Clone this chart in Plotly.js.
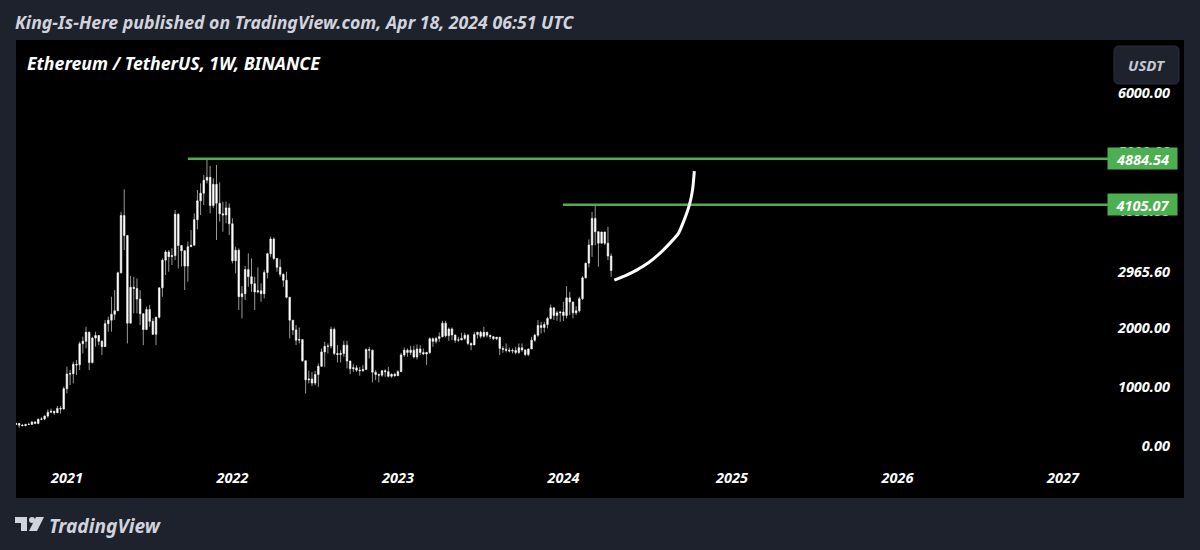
<!DOCTYPE html>
<html><head><meta charset="utf-8">
<script src="https://cdn.plot.ly/plotly-3.0.1.min.js"></script>
<style>html,body{margin:0;padding:0;background:#1e222d}#c{width:1200px;height:550px}</style></head>
<body><div id="c"></div>
<script>
const weeks=["2020-09-14","2020-09-21","2020-09-28","2020-10-05","2020-10-12","2020-10-19","2020-10-26","2020-11-02","2020-11-09","2020-11-16","2020-11-23","2020-11-30","2020-12-07","2020-12-14","2020-12-21","2020-12-28",
"2021-01-04","2021-01-11","2021-01-18","2021-01-25","2021-02-01","2021-02-08","2021-02-15","2021-02-22","2021-03-01","2021-03-08","2021-03-15","2021-03-22","2021-03-29","2021-04-05","2021-04-12","2021-04-19","2021-04-26","2021-05-03","2021-05-10","2021-05-17","2021-05-24","2021-05-31","2021-06-07","2021-06-14","2021-06-21","2021-06-28","2021-07-05","2021-07-12","2021-07-19","2021-07-26","2021-08-02","2021-08-09","2021-08-16","2021-08-23","2021-08-30","2021-09-06","2021-09-13","2021-09-20","2021-09-27","2021-10-04","2021-10-11","2021-10-18","2021-10-25","2021-11-01","2021-11-08","2021-11-15","2021-11-22","2021-11-29","2021-12-06","2021-12-13","2021-12-20","2021-12-27",
"2022-01-03","2022-01-10","2022-01-17","2022-01-24","2022-01-31","2022-02-07","2022-02-14","2022-02-21","2022-02-28","2022-03-07","2022-03-14","2022-03-21","2022-03-28","2022-04-04","2022-04-11","2022-04-18","2022-04-25","2022-05-02","2022-05-09","2022-05-16","2022-05-23","2022-05-30","2022-06-06","2022-06-13","2022-06-20","2022-06-27","2022-07-04","2022-07-11","2022-07-18","2022-07-25","2022-08-01","2022-08-08","2022-08-15","2022-08-22","2022-08-29","2022-09-05","2022-09-12","2022-09-19","2022-09-26","2022-10-03","2022-10-10","2022-10-17","2022-10-24","2022-10-31","2022-11-07","2022-11-14","2022-11-21","2022-11-28","2022-12-05","2022-12-12","2022-12-19","2022-12-26",
"2023-01-02","2023-01-09","2023-01-16","2023-01-23","2023-01-30","2023-02-06","2023-02-13","2023-02-20","2023-02-27","2023-03-06","2023-03-13","2023-03-20","2023-03-27","2023-04-03","2023-04-10","2023-04-17","2023-04-24","2023-05-01","2023-05-08","2023-05-15","2023-05-22","2023-05-29","2023-06-05","2023-06-12","2023-06-19","2023-06-26","2023-07-03","2023-07-10","2023-07-17","2023-07-24","2023-07-31","2023-08-07","2023-08-14","2023-08-21","2023-08-28","2023-09-04","2023-09-11","2023-09-18","2023-09-25","2023-10-02","2023-10-09","2023-10-16","2023-10-23","2023-10-30","2023-11-06","2023-11-13","2023-11-20","2023-11-27","2023-12-04","2023-12-11","2023-12-18","2023-12-25",
"2024-01-01","2024-01-08","2024-01-15","2024-01-22","2024-01-29","2024-02-05","2024-02-12","2024-02-19","2024-02-26","2024-03-04","2024-03-11","2024-03-18","2024-03-25","2024-04-01","2024-04-08","2024-04-15"];
const opens=[365,385,355,346,367,368,410,385,455,460,510,575,590,565,640,630,
975,1225,1230,1390,1380,1740,1780,1935,1420,1835,1880,1780,1690,2080,2140,2240,2300,2945,3920,3580,2090,2700,2680,2500,2250,1980,2320,2120,1900,2190,2690,3160,3300,3220,3240,3940,3410,3320,3060,3390,3415,3850,4170,4300,4520,4570,4090,4450,4130,3950,3930,4050,
3780,3150,3330,2540,2590,3000,2880,2760,2620,2640,2590,2950,3270,3520,3190,3040,2920,2820,2530,2140,1975,1800,1810,1450,1125,1140,1070,1215,1355,1600,1695,1700,1985,1575,1555,1575,1715,1445,1315,1330,1290,1280,1300,1640,1630,1255,1215,1205,1280,1265,1185,1220,
1195,1265,1550,1630,1590,1630,1515,1650,1590,1565,1590,1825,1780,1830,1860,2090,1875,1990,1890,1800,1805,1830,1885,1745,1720,1895,1935,1865,1935,1885,1860,1825,1850,1660,1645,1630,1615,1625,1590,1670,1635,1555,1650,1800,1885,2050,2015,2065,2170,2350,2220,2265,
2280,2220,2520,2450,2265,2300,2505,2860,3110,3420,3870,3645,3450,3640,3450,3230];
const highs=[395,390,375,380,395,420,420,470,490,520,620,635,600,680,680,1008,
1348,1290,1434,1462,1774,1859,2029,1944,1859,1944,1887,1802,2142,2199,2539,2652,2964,3985,4365,3588,2891,2879,2851,2652,2256,2369,2397,2170,2199,2698,3191,3333,3333,3361,4013,3957,3420,3333,3475,3673,3957,4354,4467,4609,4868,4762,4552,4779,4484,4155,4155,4127,
3872,3390,3361,2720,3061,3276,3191,2879,3038,2766,2992,3288,3560,3548,3191,3174,2936,2964,2528,2142,2057,2016,1810,1450,1279,1262,1279,1404,1659,1772,1744,2028,2016,1716,1630,1789,1789,1450,1392,1375,1347,1375,1659,1687,1640,1290,1234,1290,1307,1347,1234,1245,
1290,1585,1676,1659,1704,1704,1727,1716,1659,1602,1846,1846,1857,1931,2130,2130,2016,2016,1890,1857,1926,1926,1903,1761,1942,1942,1960,2028,1942,1886,1869,1857,1850,1699,1744,1676,1659,1687,1744,1744,1642,1659,1857,1903,2141,2113,2113,2198,2407,2356,2300,2283,
2453,2719,2623,2453,2379,2538,2889,3116,3513,3983,4097,3643,3643,3643,3728,3274];
const lows=[360,310,335,335,355,365,370,370,440,440,480,560,530,560,550,620,
895,1037,1065,1207,1292,1575,1660,1292,1405,1689,1717,1547,1689,1944,1944,2142,2312,2936,3333,1745,2085,2256,2256,2057,1717,1972,2029,1887,1717,2170,2539,2908,2964,3078,3163,3021,3050,2653,2794,3390,3418,3685,3928,4098,4467,3957,4050,3503,3815,3645,3787,3588,
3106,2936,2312,2170,2483,2709,2624,2312,2596,2454,2511,2851,3220,3163,2964,2879,2709,2511,1830,1887,1717,1744,1432,894,1064,1018,1035,1007,1347,1347,1574,1659,1546,1421,1421,1517,1319,1222,1262,1262,1194,1262,1295,1489,1081,1120,1081,1177,1177,1166,1160,1177,
1194,1260,1517,1517,1546,1489,1472,1546,1546,1375,1563,1687,1744,1772,1846,1846,1789,1801,1755,1772,1801,1801,1716,1631,1716,1829,1829,1846,1846,1818,1801,1801,1546,1585,1591,1591,1574,1557,1563,1602,1529,1529,1650,1772,1857,1914,1931,2000,2152,2141,2130,2113,
2124,2169,2226,2169,2226,2271,2481,2850,3037,3218,3416,3048,3444,3416,3161,2877];
const closes=[385,355,346,367,368,410,385,455,460,510,575,590,565,640,630,975,
1225,1230,1390,1380,1740,1780,1935,1420,1835,1880,1780,1690,2080,2140,2240,2300,2945,3920,3580,2090,2700,2680,2500,2250,1980,2320,2120,1900,2190,2690,3160,3300,3220,3240,3940,3410,3320,3060,3390,3415,3850,4170,4300,4520,4570,4090,4450,4130,3950,3930,4050,3780,
3150,3330,2540,2590,3000,2880,2760,2620,2640,2590,2950,3270,3520,3190,3040,2920,2820,2530,2140,1975,1800,1810,1450,1125,1140,1070,1215,1355,1600,1695,1700,1985,1575,1555,1575,1715,1445,1315,1330,1290,1280,1300,1640,1630,1255,1215,1205,1280,1265,1185,1220,1195,
1265,1550,1630,1590,1630,1515,1650,1590,1565,1590,1825,1780,1830,1860,2090,1875,1990,1890,1800,1805,1830,1885,1745,1720,1895,1935,1865,1935,1885,1860,1825,1850,1660,1645,1630,1615,1625,1590,1670,1635,1555,1650,1800,1885,2050,2015,2065,2170,2350,2220,2265,2280,
2220,2520,2450,2265,2300,2505,2860,3110,3420,3870,3645,3450,3640,3450,3230,2985];

const priceTicks=[0,1000,2000,2965.6,4000,5000,6000];
const priceLabels=["0.00","1000.00","2000.00","2965.60","4000.00","5000.00","6000.00"];
const yearTicks=["2021-01-04","2022-01-03","2023-01-02","2024-01-01","2025-01-06","2026-01-05","2027-01-04"];
const yearLabels=["2021","2022","2023","2024","2025","2026","2027"];

const athLevel=4884.54, highLevel=4105.07;
const athLineX=["2021-09-27","2027-04-15"];
const highLineX=["2023-12-31","2027-04-15"];
const curveX=["2024-04-22","2024-05-19","2024-06-10","2024-07-06","2024-07-31","2024-08-22","2024-09-10","2024-09-24","2024-10-04","2024-10-11","2024-10-15"];
const curveY=[2822,2907,2992,3116,3276,3446,3616,3871,4097,4352,4675];

const W=1200,H=550,L=16,R=1184,T=40,B=498;
const px=x=>(x-L)/(R-L), py=y=>(B-y)/(B-T);
function rr(x0,y0,x1,y1,r){
  const X=v=>px(v).toFixed(5),Y=v=>py(v).toFixed(5);
  return `M${X(x0+r)},${Y(y0)} L${X(x1-r)},${Y(y0)} Q${X(x1)},${Y(y0)} ${X(x1)},${Y(y0+r)} L${X(x1)},${Y(y1-r)} Q${X(x1)},${Y(y1)} ${X(x1-r)},${Y(y1)} L${X(x0+r)},${Y(y1)} Q${X(x0)},${Y(y1)} ${X(x0)},${Y(y1-r)} L${X(x0)},${Y(y0+r)} Q${X(x0)},${Y(y0)} ${X(x0+r)},${Y(y0)} Z`;
}
function poly(pts){return 'M'+pts.map(p=>px(p[0]).toFixed(5)+','+py(p[1]).toFixed(5)).join(' L')+' Z';}
const FONT='"Noto Sans","Open Sans",sans-serif';
const bf=(s,c)=>({family:FONT,size:s,color:c,weight:700,style:'italic'});
const ptxt=(text,x,y,s,c,extra)=>Object.assign({text,xref:'paper',yref:'paper',x:px(x),y:py(y),xanchor:'left',yanchor:'middle',showarrow:false,font:bf(s,c)},extra||{});
const tag=(v)=>({text:v.toFixed(2),xref:'paper',yref:'y',x:px(1142.5),y:v,xanchor:'center',yanchor:'middle',showarrow:false,font:bf(14.5,'#ffffff'),bgcolor:'#4caf50',width:65,height:17,borderpad:2});

const traces=[
 {type:'candlestick',x:weeks,open:opens,high:highs,low:lows,close:closes,
  increasing:{line:{color:'#ffffff',width:0.6},fillcolor:'#ffffff'},
  decreasing:{line:{color:'#ffffff',width:0.6},fillcolor:'#ffffff'},
  whiskerwidth:0,showlegend:false,hoverinfo:'skip'},
 {type:'scatter',mode:'lines',x:athLineX,y:[athLevel,athLevel],line:{color:'#4caf50',width:2.5},showlegend:false,hoverinfo:'skip'},
 {type:'scatter',mode:'lines',x:highLineX,y:[highLevel,highLevel],line:{color:'#4caf50',width:2.5},showlegend:false,hoverinfo:'skip'},
 {type:'scatter',mode:'lines',x:curveX,y:curveY,line:{color:'#ffffff',width:3,shape:'spline',smoothing:0.6},showlegend:false,hoverinfo:'skip'}
];
const layout={
 width:W,height:H,autosize:false,
 margin:{l:L,r:W-R,t:T,b:H-B,pad:0},
 paper_bgcolor:'#1e222d',plot_bgcolor:'#000000',showlegend:false,
 title:{text:'King-Is-Here published on TradingView.com, Apr 18, 2024 06:51 UTC',font:bf(17.7,'#d1d4dc'),x:15/W,xref:'container',xanchor:'left',y:1-23/H,yref:'container',yanchor:'middle',pad:{l:0,r:0,t:0,b:0}},
 xaxis:{type:'date',range:['2020-09-14','2027-09-27'],tickmode:'array',tickvals:yearTicks,ticktext:yearLabels,
  ticklabelposition:'inside',ticklabelstandoff:9,ticks:'',showgrid:false,zeroline:false,showline:false,tickfont:bf(14.5,'#ffffff'),rangeslider:{visible:false},fixedrange:true},
 yaxis:{side:'right',range:[-884,6905],tickmode:'array',tickvals:priceTicks,ticktext:priceLabels,
  ticklabelposition:'inside',ticklabelstandoff:11,ticks:'',showgrid:false,zeroline:false,showline:false,tickfont:bf(14.5,'#ffffff'),fixedrange:true},
 annotations:[
  ptxt('Ethereum / TetherUS, 1W, BINANCE',25,63,17.7,'#ffffff'),
  ptxt('USDT',1146.5,65,15,'#c4c8d2',{xanchor:'center'}),
  ptxt('TradingView',47,525,19.2,'#d1d4dc'),
  tag(athLevel),tag(highLevel)
 ],
 shapes:[
  {type:'path',xref:'paper',yref:'paper',path:rr(1114,46,1179,84,5),fillcolor:'#1e222d',line:{color:'#2a2e39',width:1},layer:'above'},
  {type:'path',xref:'paper',yref:'paper',path:poly([[15,517],[27,517],[27,531],[21,531],[21,523],[15,523]]),fillcolor:'#d1d4dc',line:{width:0}},
  {type:'circle',xref:'paper',yref:'paper',x0:px(29),x1:px(35),y0:py(517),y1:py(523),fillcolor:'#d1d4dc',line:{width:0}},
  {type:'path',xref:'paper',yref:'paper',path:poly([[36,517],[44,517],[37,531],[29,531]]),fillcolor:'#d1d4dc',line:{width:0}}
 ]
};
Plotly.newPlot('c',traces,layout,{displayModeBar:false,staticPlot:true});
</script></body></html>
